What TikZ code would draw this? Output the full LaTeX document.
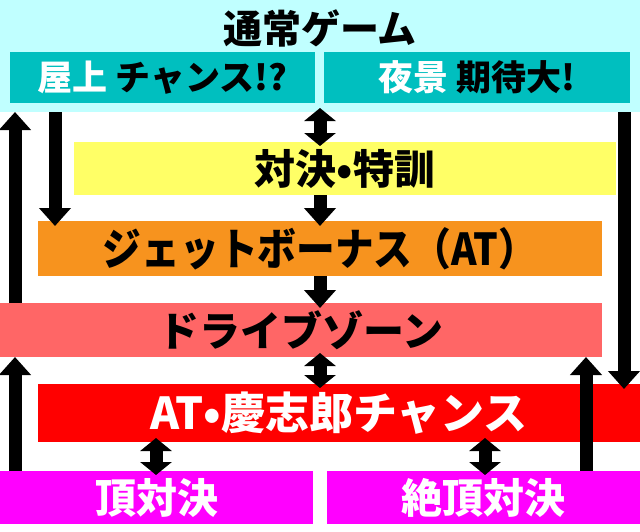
\documentclass[tikz,border=0pt]{standalone}
\usepackage{fontspec}
\setmainfont{Noto Sans CJK JP}
\newfontfamily\narrow{Noto Sans CJK JP}[FakeStretch=0.88]
\usetikzlibrary{arrows.meta}
\definecolor{bandcyan}{HTML}{C0FFFF}
\definecolor{teal}{HTML}{00BFBF}
\definecolor{duelyellow}{HTML}{FFFF66}
\definecolor{jetorange}{HTML}{F7931E}
\definecolor{drivepink}{HTML}{FF6666}
\definecolor{chancered}{HTML}{FF0000}
\definecolor{peakmagenta}{HTML}{FF00FF}
\tikzset{
        box/.style={anchor=north west, inner sep=0pt, outer sep=0pt,
            font=\bfseries\fontsize{41}{41}\selectfont},
        smallbox/.style={box, font=\bfseries\fontsize{35}{35}\selectfont},
        bigarrow/.style={line width=13pt, -{Triangle[width=31pt,length=18pt]}},
        downarrow/.style={bigarrow, shorten >=-5pt},
        twoarrow/.style={line width=13pt, shorten <=-4pt, shorten >=-4pt,
            {Triangle[width=31pt,length=13pt]}-{Triangle[width=31pt,length=13pt]}}
}

\begin{document}
\begin{tikzpicture}[x=1pt,y=-1pt]

        \useasboundingbox[fill=white] (0,0) rectangle (640,531);

        \node[box, fill=bandcyan, minimum width=640pt, minimum height=112pt] (normal) at (0,0) {};
        \node[font=\bfseries\fontsize{39}{39}\selectfont, inner sep=0pt] (title) at (320,28) {通常ゲーム};
        \node[smallbox, fill=teal, minimum width=305pt, minimum height=51pt] (roof) at (10,52)
            {{\color{white}屋上} チャンス!?};
        \node[smallbox, fill=teal, minimum width=306pt, minimum height=51pt] (night) at (324,52)
            {{\color{white}夜景} 期待大!};
        \node[box, fill=duelyellow, minimum width=542pt, minimum height=53pt] (duel) at (74,142) {対決•特訓};
        \node[box, fill=jetorange, minimum width=564pt, minimum height=55pt,
            font=\narrow\bfseries\fontsize{44}{44}\selectfont] (jet) at (38,221) {ジェットボーナス（AT）};
        \node[box, fill=drivepink, minimum width=602pt, minimum height=54pt] (drive) at (0,303) {ドライブゾーン};
        \node[box, fill=chancered, text=white, minimum width=602pt, minimum height=58pt,
            font=\bfseries\fontsize{44}{44}\selectfont] (chance) at (38,384) {AT•慶志郎チャンス};
        \node[box, fill=peakmagenta, text=white, minimum width=313pt, minimum height=53pt] (peak) at (0,471) {頂対決};
        \node[box, fill=peakmagenta, text=white, minimum width=313pt, minimum height=53pt] (summit) at (327,471) {絶頂対決};

        \coordinate (lA) at (15,0);
        \coordinate (lB) at (55,0);
        \coordinate (mid) at (320,0);
        \coordinate (rA) at (624,0);
        \coordinate (rB) at (586,0);
        \coordinate (pA) at (156,0);
        \coordinate (pB) at (485,0);

        \foreach \a/\b/\c in {
        drive.north/normal.south/lA,
        summit.north/drive.south/rB,
        peak.north/drive.south/lA} {
        \draw[bigarrow] (\a -| \c) -- (\b -| \c);
        }

        \foreach \a/\b/\c in {
        normal.south/jet.north/lB,
        duel.south/jet.north/mid,
        jet.south/drive.north/mid,
        normal.south/chance.north/rA} {
        \draw[downarrow] (\a -| \c) -- (\b -| \c);
        }

        \foreach \a/\b/\c in {
        normal.south/duel.north/mid,
        drive.south/chance.north/mid,
        chance.south/peak.north/pA,
        chance.south/summit.north/pB} {
        \draw[twoarrow] (\a -| \c) -- (\b -| \c);
        }
    \end{tikzpicture}
\end{document}
